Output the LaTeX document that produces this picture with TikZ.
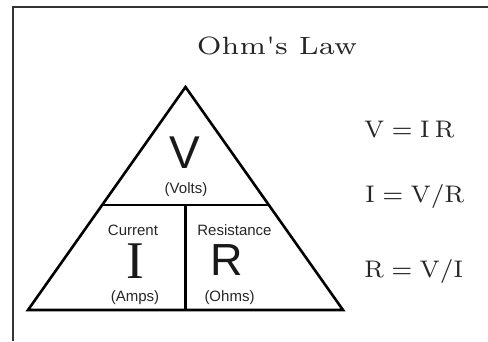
\documentclass[tikz,border=0pt]{standalone}
\usepackage{fontspec}
\newfontfamily\arialf{Liberation Sans}
\newfontfamily\timesf{Liberation Serif}
\newfontfamily\lmseven{lmroman7-regular.otf}
\newcommand\eqgap{\hspace{0.3em}}
\begin{document}
\begin{tikzpicture}[x=1pt,y=-1pt,
  frame/.style={line width=1.6pt, black!80},
  tri/.style={line width=2.6pt, line join=miter, black},
  lab/.style={font=\arialf\fontsize{15}{17}\selectfont, text=black!85, inner sep=0, anchor=base},
  bigsans/.style={font=\arialf\fontsize{45}{50}\selectfont, text=black!90, inner sep=0, anchor=base},
  bigserif/.style={font=\timesf\fontsize{53}{58}\selectfont, text=black!90, inner sep=0, anchor=base},
  eq/.style={font=\lmseven\fontsize{24}{28}\selectfont, anchor=base west, inner sep=0, text=black!85},
  ttl/.style={font=\lmseven\fontsize{25}{30}\selectfont, anchor=base, inner sep=0, text=black!85, xscale=1.13}]
\useasboundingbox (0,0) rectangle (488,341);
\draw[frame] (13,341) -- (13,7) -- (488,7);
\coordinate (A) at (185.5,87);
\coordinate (BL) at (28,310);
\coordinate (BR) at (343,310);
\coordinate (ML) at (102.5,205);
\coordinate (MR) at (268.5,205);
\coordinate (MT) at (185.5,205);
\coordinate (MB) at (185.5,310);
\draw[tri] (A) -- (BR) -- (BL) -- cycle;
\draw[tri] (ML) -- (MR);
\draw[tri] (MT) -- (MB);
\node[ttl] (title) at (277,54) {Ohm's Law};
\node[bigsans, font=\arialf\fontsize{46}{50}\selectfont] (V) at (185,168) {V};
\node[lab] (volts) at (186,193.5) {(Volts)};
\node[lab] (cur) at (133,235) {Current};
\node[bigserif] (I) at (135,278) {I};
\node[lab] (amps) at (135,301.5) {(Amps)};
\node[lab] (res) at (234.5,235) {Resistance};
\node[bigsans] (R) at (227,275) {R};
\node[lab] (ohms) at (229.5,301.5) {(Ohms)};
\node[eq] (e1) at (364,137) {V\eqgap=\eqgap I\hspace{0.2em}R};
\node[eq] (e2) at (365,202) {I\eqgap=\eqgap V/R};
\node[eq] (e3) at (364,277) {R\eqgap=\eqgap V/I};
\end{tikzpicture}
\end{document}
